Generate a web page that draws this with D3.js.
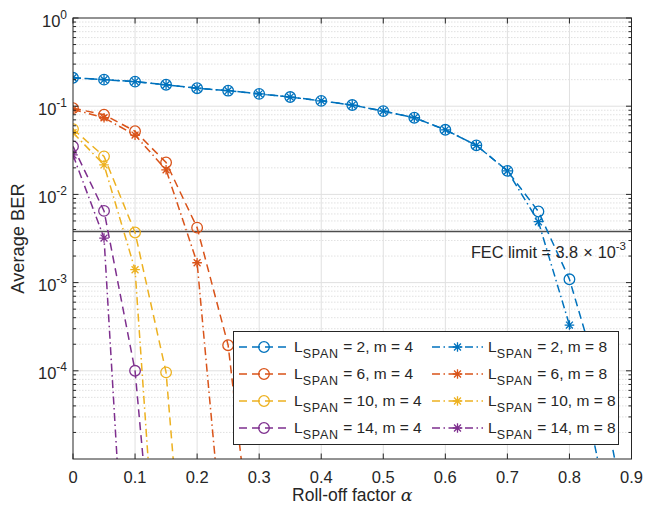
<!DOCTYPE html>
<html><head><meta charset="utf-8">
<script src="https://cdn.jsdelivr.net/npm/d3@7"></script>
<style>
body{margin:0;background:#fff;}
svg{font-family:"Liberation Sans",Arial,Helvetica,sans-serif;}
</style></head>
<body><svg id="c" width="645" height="510"></svg>
<script>
// ---- data ----
const alphaBlue = [0,0.05,0.1,0.15,0.2,0.25,0.3,0.35,0.4,0.45,0.5,0.55,0.6,0.65,0.7,0.75,0.8,0.85,0.9];
const L2m4 = [0.21,0.20,0.19,0.175,0.16,0.15,0.138,0.127,0.115,0.103,0.088,0.074,0.054,0.036,0.0185,0.0064,0.00109,7e-5,1e-6];
const L2m8 = [0.21,0.20,0.19,0.175,0.16,0.15,0.138,0.127,0.115,0.103,0.088,0.074,0.054,0.036,0.0185,0.0049,0.00033,7e-6,1e-8];
const alphaL6m4 = [0,0.05,0.1,0.15,0.2,0.25,0.3];
const L6m4 = [0.095,0.08,0.052,0.023,0.0042,1.95e-4,1.7e-7];
const alphaL6m8 = [0,0.05,0.1,0.15,0.2,0.25];
const L6m8 = [0.092,0.074,0.047,0.019,0.00168,2.5e-7];
const alphaL10m4 = [0,0.05,0.1,0.15,0.2];
const L10m4 = [0.055,0.027,0.0037,9.6e-5,5e-9];
const alphaL10m8 = [0,0.05,0.1,0.15];
const L10m8 = [0.05,0.0216,0.0014,1.1e-8];
const alphaL14m4 = [0,0.05,0.1,0.15];
const L14m4 = [0.035,0.0065,1.0e-4,1.4e-8];
const alphaL14m8 = [0,0.05,0.1];
const L14m8 = [0.028,0.0032,3.5e-9];
const spans = [2,6,10,14];
const xTicks = [0,0.1,0.2,0.3,0.4,0.5,0.6,0.7,0.8,0.9];
const yTickExps = [0,-1,-2,-3,-4];
const fecLimit = 3.8e-3;
const colors = ["#0072BD","#D95319","#EDB120","#7E2F8E"];

const series = [
  {x:alphaBlue, y:L2m4, c:0, m:4}, {x:alphaBlue, y:L2m8, c:0, m:8},
  {x:alphaL6m4, y:L6m4, c:1, m:4}, {x:alphaL6m8, y:L6m8, c:1, m:8},
  {x:alphaL10m4, y:L10m4, c:2, m:4}, {x:alphaL10m8, y:L10m8, c:2, m:8},
  {x:alphaL14m4, y:L14m4, c:3, m:4}, {x:alphaL14m8, y:L14m8, c:3, m:8}
];

const svg = d3.select("#c");
const X0=73, X1=631.5, Y0=18, Y1=459;
const x = d3.scaleLinear().domain([0,0.9]).range([X0,X1]);
const y = d3.scaleLog().domain([1e-5,1]).range([Y1,Y0]);
const DASH="8,5", DASHDOT="8,3.5,1.5,3.5";

svg.append("defs").append("clipPath").attr("id","clip")
  .append("rect").attr("x",X0).attr("y",Y0).attr("width",X1-X0).attr("height",Y1-Y0);

const g = svg.append("g");
const minorVals=[];
for(let e=-5;e<0;e++) for(let k=2;k<=9;k++) minorVals.push(k*Math.pow(10,e));
g.selectAll(".mg").data(minorVals).enter().append("line")
  .attr("x1",X0).attr("x2",X1).attr("y1",d=>y(d)).attr("y2",d=>y(d))
  .attr("stroke","#d9d9d9").attr("stroke-width",0.8).attr("stroke-dasharray","1.5,1.5");
g.selectAll(".gx").data(xTicks.slice(1,-1)).enter().append("line")
  .attr("x1",d=>x(d)).attr("x2",d=>x(d)).attr("y1",Y0).attr("y2",Y1)
  .attr("stroke","#e0e0e0").attr("stroke-width",1);
g.selectAll(".gy").data(yTickExps.slice(1)).enter().append("line")
  .attr("x1",X0).attr("x2",X1).attr("y1",d=>y(Math.pow(10,d))).attr("y2",d=>y(Math.pow(10,d)))
  .attr("stroke","#e0e0e0").attr("stroke-width",1);

// FEC line
svg.append("line").attr("x1",X0).attr("x2",X1).attr("y1",y(fecLimit)).attr("y2",y(fecLimit))
  .attr("stroke","#4d4d4d").attr("stroke-width",1.5);

// series
const plot = svg.append("g").attr("clip-path","url(#clip)");
const line = d3.line().x(d=>x(d[0])).y(d=>y(d[1]));
function asterisk(sel,cx,cy,col){
  const r=4.8, rd=r*0.72;
  const p=`M${cx-r},${cy}L${cx+r},${cy}M${cx},${cy-r}L${cx},${cy+r}M${cx-rd},${cy-rd}L${cx+rd},${cy+rd}M${cx-rd},${cy+rd}L${cx+rd},${cy-rd}`;
  sel.append("path").attr("d",p).attr("stroke",col).attr("stroke-width",1.3).attr("fill","none");
}
function circ(sel,cx,cy,col){
  sel.append("circle").attr("cx",cx).attr("cy",cy).attr("r",5.3).attr("fill","none")
    .attr("stroke",col).attr("stroke-width",1.3);
}
series.forEach(s=>{
  const pts=s.x.map((a,i)=>[a,s.y[i]]);
  plot.append("path").attr("d",line(pts)).attr("fill","none").attr("stroke",colors[s.c])
    .attr("stroke-width",1.5).attr("stroke-dasharray", s.m===4 ? DASH : DASHDOT);
  pts.forEach(p=>{
    if(s.m===4) circ(plot,x(p[0]),y(p[1]),colors[s.c]);
    else asterisk(plot,x(p[0]),y(p[1]),colors[s.c]);
  });
});

// axes box
svg.append("rect").attr("x",X0).attr("y",Y0).attr("width",X1-X0).attr("height",Y1-Y0)
  .attr("fill","none").attr("stroke","#262626").attr("stroke-width",1);
const tk=svg.append("g").attr("stroke","#262626").attr("stroke-width",1);
xTicks.forEach(t=>{
  tk.append("line").attr("x1",x(t)).attr("x2",x(t)).attr("y1",Y1).attr("y2",Y1-5.5);
  tk.append("line").attr("x1",x(t)).attr("x2",x(t)).attr("y1",Y0).attr("y2",Y0+5.5);
});
yTickExps.forEach(e=>{
  const yy=y(Math.pow(10,e));
  tk.append("line").attr("x1",X0).attr("x2",X0+5.5).attr("y1",yy).attr("y2",yy);
  tk.append("line").attr("x1",X1).attr("x2",X1-5.5).attr("y1",yy).attr("y2",yy);
});
minorVals.forEach(v=>{
  const yy=y(v);
  tk.append("line").attr("x1",X0).attr("x2",X0+3).attr("y1",yy).attr("y2",yy);
  tk.append("line").attr("x1",X1).attr("x2",X1-3).attr("y1",yy).attr("y2",yy);
});

// tick labels
const txtCol="#262626";
svg.selectAll(".xl").data(xTicks).enter().append("text")
  .attr("x",d=>x(d)).attr("y",483).attr("text-anchor","middle")
  .attr("font-size",16.5).attr("fill",txtCol).text(d=>d===0?"0":d3.format(".1f")(d));
yTickExps.forEach(e=>{
  const t=svg.append("text").attr("x",X0-6).attr("y",y(Math.pow(10,e))+8.5)
    .attr("text-anchor","end").attr("font-size",16.5).attr("fill",txtCol);
  t.append("tspan").text("10");
  t.append("tspan").attr("dy",-8).attr("font-size",12).text(e===0?"0":"-"+(-e));
});

// axis labels
const xl=svg.append("text").attr("x",(X0+X1)/2).attr("y",501).attr("text-anchor","middle")
  .attr("font-size",17.5).attr("fill",txtCol);
xl.append("tspan").text("Roll-off factor ");
xl.append("tspan").attr("font-family","'DejaVu Serif',serif").attr("font-style","italic").text("α");
svg.append("text").attr("transform",`translate(24,${(Y0+Y1)/2}) rotate(-90)`)
  .attr("text-anchor","middle").attr("font-size",18.3).attr("fill",txtCol).text("Average BER");

// FEC label
const ft=svg.append("text").attr("x",626).attr("y",258).attr("text-anchor","end")
  .attr("font-size",16.3).attr("fill",txtCol);
ft.append("tspan").text("FEC limit = 3.8");
ft.append("tspan").text("×").attr("dx",5);
ft.append("tspan").text("10").attr("dx",5);
ft.append("tspan").attr("dy",-8).attr("font-size",11.5).text("-3");

// legend
const lg=svg.append("g");
lg.append("rect").attr("x",233.5).attr("y",331.5).attr("width",385).attr("height",113)
  .attr("fill","#fff").attr("stroke","#262626").attr("stroke-width",1);
const rowY=[347,374,401,428];
const cols=[{lx0:239,lx1:289,mx:264,tx:294,m:4},{lx0:432,lx1:483,mx:457.5,tx:488,m:8}];
cols.forEach(cl=>{
  spans.forEach((sp,i)=>{
    const yy=rowY[i];
    lg.append("line").attr("x1",cl.lx0).attr("x2",cl.lx1).attr("y1",yy).attr("y2",yy)
      .attr("stroke",colors[i]).attr("stroke-width",1.5)
      .attr("stroke-dasharray", cl.m===4 ? DASH : DASHDOT);
    if(cl.m===4) circ(lg,cl.mx,yy,colors[i]); else asterisk(lg,cl.mx,yy,colors[i]);
    const t=lg.append("text").attr("x",cl.tx).attr("y",yy+5).attr("font-size",15.5).attr("fill",txtCol);
    t.append("tspan").text("L");
    t.append("tspan").attr("dy",5.5).attr("font-size",12.5).attr("letter-spacing",0.8).text("SPAN");
    t.append("tspan").attr("dy",-5.5).text(` = ${sp}, m = ${cl.m}`);
  });
});
</script></body></html>
